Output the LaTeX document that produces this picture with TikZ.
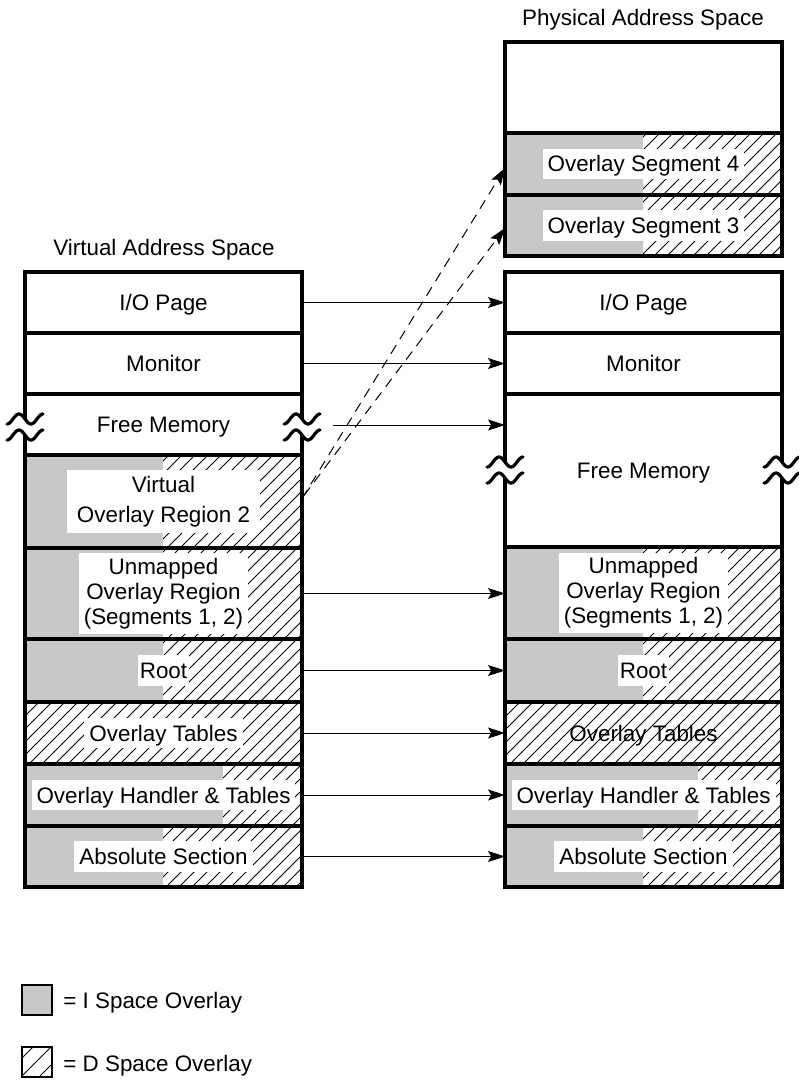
\documentclass[tikz,border=0pt]{standalone}
\usepackage{fontspec}
\setmainfont{Liberation Sans}
\usetikzlibrary{arrows.meta}
\definecolor{igray}{RGB}{200,200,200}

% diagonal hatching of a rectangle (pixel-like units, y grows downward)
\newcommand{\hatchrect}[5][13]{%
  \begin{scope}
    \clip (#2,#3) rectangle (#4,#5);
    \pgfmathtruncatemacro{\hcA}{floor((#2+#3)/#1)*#1}
    \pgfmathtruncatemacro{\hcB}{\hcA+#1}
    \pgfmathtruncatemacro{\hcZ}{ceil((#4+#5)/#1)*#1}
    \foreach \c in {\hcA,\hcB,...,\hcZ}
      \draw[hatchline] (\c-#5,#5) -- (\c-#3,#3);
  \end{scope}}

% one memory region as a named rectangle node
\newcommand{\memrow}[5]{%
  \node[rowbox, minimum width={(#4-#2)*0.5pt}, minimum height={(#5-#3)*0.5pt}]
    (#1) at ({(#2+#4)/2},{(#3+#5)/2}) {};}

% break symbol across a vertical border
\newcommand{\breakmark}[2]{%
  \fill[white] plot[domain=0:1,samples=40] ({#1-18+36*\x},{#2-8+5*cos(540*\x)})
    -- plot[domain=1:0,samples=40] ({#1-18+36*\x},{#2+8+5*cos(540*\x)}) -- cycle;
  \draw[brk] plot[domain=0:1,samples=40] ({#1-18+36*\x},{#2-8+5*cos(540*\x)});
  \draw[brk] plot[domain=0:1,samples=40] ({#1-18+36*\x},{#2+8+5*cos(540*\x)});}

\begin{document}
\begin{tikzpicture}[x=0.5pt,y=-0.5pt,
  rowbox/.style={draw, line width=1.6pt, inner sep=0pt, outer sep=0pt},
  lbl/.style={fill=white, inner xsep=2.5pt, inner ysep=2.3pt, text height=9.3pt,
    text depth=1.3pt, font=\fontsize{11.2}{13}\selectfont},
  lblm/.style={fill=white, inner xsep=2.5pt, inner ysep=2.5pt, align=center,
    font=\fontsize{11.2}{12.5}\selectfont},
  ttl/.style={anchor=base, inner sep=0pt, font=\fontsize{11.2}{13}\selectfont},
  legtxt/.style={anchor=base west, inner sep=0pt, font=\fontsize{11.2}{13}\selectfont},
  legbox/.style={draw, line width=0.7pt, minimum size=15pt, inner sep=0pt, outer sep=0pt},
  conn/.style={line width=0.5pt, -{Stealth[length=8.5pt,width=5.5pt,inset=1.6pt]}},
  dconn/.style={conn, dash pattern=on 5pt off 3.5pt},
  brk/.style={line width=1.6pt, line cap=round},
  hatchline/.style={line width=0.45pt}]

\useasboundingbox (0,0) rectangle (798,1080);

% ---------- fills: virtual address space ----------
\fill[igray] (25,455) rectangle (163,702);
\fill[igray] (25,764) rectangle (223,826);
\fill[igray] (25,826) rectangle (163,887);
\hatchrect{163}{455}{302}{702}
\hatchrect{25}{702}{302}{764}
\hatchrect{223}{764}{302}{826}
\hatchrect{163}{826}{302}{887}

% ---------- fills: physical address space ----------
\fill[igray] (505,133) rectangle (643,256);
\hatchrect{643}{133}{782}{256}
\fill[igray] (505,547) rectangle (643,702);
\hatchrect{643}{547}{782}{702}
\hatchrect{505}{702}{782}{764}
\fill[igray] (505,764) rectangle (698,826);
\hatchrect{698}{764}{782}{826}
\fill[igray] (505,826) rectangle (643,887);
\hatchrect{643}{826}{782}{887}

% ---------- region outlines ----------
\memrow{ioL}{25}{272}{302}{333}
\memrow{monL}{25}{333}{302}{394}
\memrow{fmL}{25}{394}{302}{455}
\memrow{vo2L}{25}{455}{302}{548}
\memrow{unL}{25}{548}{302}{639}
\memrow{rootL}{25}{639}{302}{702}
\memrow{otL}{25}{702}{302}{764}
\memrow{ohL}{25}{764}{302}{826}
\memrow{absL}{25}{826}{302}{887}

\memrow{topR}{505}{42}{782}{133}
\memrow{seg4}{505}{133}{782}{195}
\memrow{seg3}{505}{195}{782}{256}
\memrow{ioR}{505}{272}{782}{333}
\memrow{monR}{505}{333}{782}{394}
\memrow{fmR}{505}{394}{782}{547}
\memrow{unR}{505}{547}{782}{639}
\memrow{rootR}{505}{639}{782}{702}
\memrow{otR}{505}{702}{782}{764}
\memrow{ohR}{505}{764}{782}{826}
\memrow{absR}{505}{826}{782}{887}

% ---------- titles ----------
\node[ttl] (vasT) at (164,256) {Virtual Address Space};
\node[ttl] (pasT) at (643,26) {Physical Address Space};

% ---------- labels ----------
\node[lbl, fill=none] (ioLt) at (ioL) {I/O Page};
\node[lbl, fill=none] (monLt) at (monL) {Monitor};
\node[lbl, fill=none] (fmLt) at (fmL) {Free Memory};
\node[lblm, inner xsep=5pt, inner ysep=3pt] (vo2Lt) at (vo2L) {Virtual\\[2.5pt]Overlay Region 2};
\node[lblm] (unLt) at (unL) {Unmapped\\Overlay Region\\(Segments 1, 2)};
\node[lbl, inner xsep=1pt] (rootLt) at (rootL) {Root};
\node[lbl] (otLt) at (otL) {Overlay Tables};
\node[lbl] (ohLt) at (ohL) {Overlay Handler \& Tables};
\node[lbl] (absLt) at (absL) {Absolute Section};

\node[lbl] (seg4t) at (seg4) {Overlay Segment 4};
\node[lbl] (seg3t) at (seg3) {Overlay Segment 3};
\node[lbl, fill=none] (ioRt) at (ioR) {I/O Page};
\node[lbl, fill=none] (monRt) at (monR) {Monitor};
\node[lbl, fill=none] (fmRt) at (fmR) {Free Memory};
\node[lblm] (unRt) at (unR) {Unmapped\\Overlay Region\\(Segments 1, 2)};
\node[lbl, inner xsep=1pt] (rootRt) at (rootR) {Root};
\node[lbl, fill=none] (otRt) at (otR) {Overlay Tables};
\node[lbl] (ohRt) at (ohR) {Overlay Handler \& Tables};
\node[lbl] (absRt) at (absR) {Absolute Section};

% ---------- break symbols ----------
\breakmark{25}{427}
\breakmark{302}{427}
\breakmark{505}{470}
\breakmark{782}{470}

% ---------- mappings ----------
\draw[conn] (ioL.east) -- (ioR.west);
\draw[conn] (monL.east) -- (monR.west);
\coordinate (fmFrom) at (333,425);
\draw[conn] (fmFrom) -- (fmFrom -| fmR.west);
\draw[conn] (unL.east) -- (unL.east -| unR.west);
\draw[conn] (rootL.east) -- (rootR.west);
\draw[conn] (otL.east) -- (otR.west);
\draw[conn] (ohL.east) -- (ohR.west);
\draw[conn] (absL.east) -- (absR.west);
\draw[dconn] ([yshift=1.5pt]vo2L.east) -- ([yshift=-2pt]seg4.west);
\draw[dconn] ([xshift=1pt,yshift=3pt]vo2L.east) -- ([yshift=-1.25pt]seg3.west);

% ---------- legend ----------
\node[legbox, fill=igray] (legI) at (37,1000) {};
\hatchrect[18]{22}{1047}{52}{1077}
\node[legbox] (legD) at (37,1062) {};
\node[legtxt] (legIt) at (63,1008) {= I Space Overlay};
\node[legtxt] (legDt) at (63,1071) {= D Space Overlay};
\end{tikzpicture}
\end{document}
